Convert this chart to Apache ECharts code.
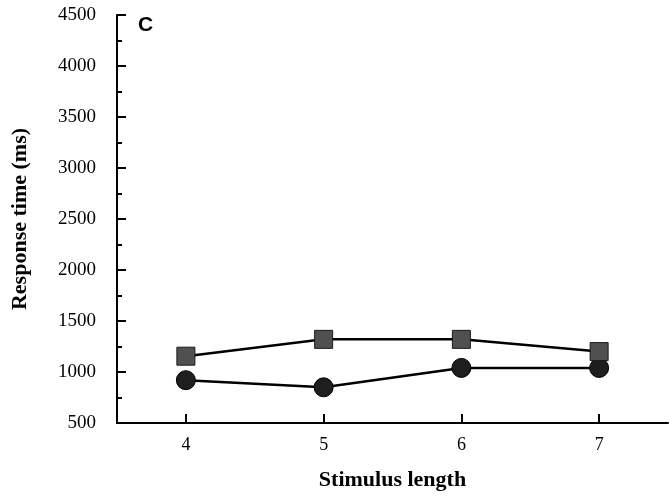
<!DOCTYPE html>
<html>
<head>
<meta charset="utf-8">
<script src="https://cdn.jsdelivr.net/npm/echarts@6/dist/echarts.min.js"></script>
<style>
  html, body { margin: 0; padding: 0; background: #fff; }
  #main { width: 669px; height: 503px; }
</style>
</head>
<body>
<div id="main"></div>
<script>
// 刺激长度
var lengths = ['4', '5', '6', '7'];
// 方块系列 / 圆点系列 (ms)
var squareTimes = [1155, 1320, 1320, 1200];
var circleTimes = [920, 850, 1040, 1040];
var yTicks = [500, 1000, 1500, 2000, 2500, 3000, 3500, 4000, 4500];

var serif = '"Liberation Serif", "DejaVu Serif", serif';
var myChart = echarts.init(document.getElementById('main'));

var option = {
  animation: false,
  backgroundColor: '#fff',
  title: {
    text: 'C',
    left: 133,
    top: 10,
    textStyle: { fontFamily: 'Liberation Sans, Arial, sans-serif', fontSize: 21, fontWeight: 'bold', color: '#000' }
  },
  grid: { left: 117, right: 1, top: 15, bottom: 80 },
  xAxis: {
    type: 'category',
    data: lengths,
    boundaryGap: true,
    name: 'Stimulus length',
    nameLocation: 'middle',
    nameGap: 46,
    nameTextStyle: { fontFamily: serif, fontSize: 22, fontWeight: 'bold', color: '#000' },
    axisLine: { show: true, lineStyle: { color: '#000', width: 2 } },
    axisTick: { show: true, alignWithLabel: true, inside: true, length: 9, lineStyle: { color: '#000', width: 2 } },
    axisLabel: { margin: 13, fontFamily: serif, fontSize: 18, color: '#000' },
    splitLine: { show: false }
  },
  yAxis: {
    type: 'value',
    min: yTicks[0],
    max: yTicks[yTicks.length - 1],
    interval: 500,
    name: 'Response time (ms)',
    nameLocation: 'middle',
    nameGap: 86,
    nameTextStyle: { fontFamily: serif, fontSize: 22, fontWeight: 'bold', color: '#000' },
    axisLine: { show: true, lineStyle: { color: '#000', width: 2 } },
    axisTick: { show: true, inside: true, length: 9, lineStyle: { color: '#000', width: 2 } },
    minorTick: { show: true, splitNumber: 2, length: 5, lineStyle: { color: '#000', width: 2 } },
    axisLabel: {
      margin: 21,
      fontFamily: serif,
      fontSize: 19,
      color: '#000',
      padding: [5, 0, 0, 0],
      formatter: function (v) { return String(v); }
    },
    splitLine: { show: false }
  },
  series: [
    {
      name: 'square',
      type: 'line',
      data: squareTimes,
      symbol: 'rect',
      symbolSize: 18,
      itemStyle: { color: '#505050', borderColor: '#1a1a1a', borderWidth: 1 },
      lineStyle: { color: '#000', width: 2.5 },
      z: 3
    },
    {
      name: 'circle',
      type: 'line',
      data: circleTimes,
      symbol: 'circle',
      symbolSize: 19,
      itemStyle: { color: '#1e1e1e', borderColor: '#000', borderWidth: 1 },
      lineStyle: { color: '#000', width: 2.5 },
      z: 2
    }
  ]
};

myChart.setOption(option);
</script>
</body>
</html>
